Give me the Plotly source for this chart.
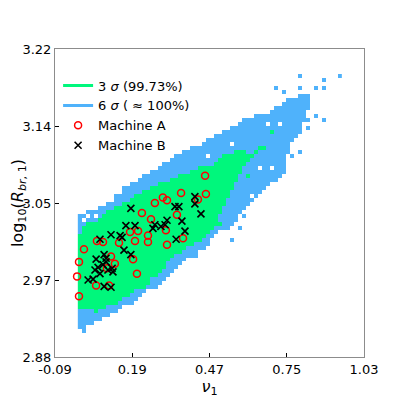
import numpy as np
import plotly.graph_objects as go

# 2-D histogram of (nu_1, log10 R_br,1): one value per column, column i sits at nu_1 = i * bin_w
bin_w = 0.0145
bin_h = 0.0044
y0 = 2.904

# 6 sigma region (top / bottom of log10 R in every column)
blue_top = [3.039, 3.040, 3.041, 3.042, 3.044, 3.046, 3.048, 3.051, 3.053, 3.058,
            3.060, 3.067, 3.070, 3.072, 3.074, 3.078, 3.081, 3.083, 3.085, 3.088,
            3.091, 3.094, 3.097, 3.101, 3.103, 3.105, 3.107, 3.110, 3.112, 3.112,
            3.113, 3.117, 3.120, 3.121, 3.124, 3.128, 3.129, 3.131, 3.133, 3.136,
            3.139, 3.142, 3.145, 3.145, 3.146, 3.147, 3.149, 3.150, 3.153, 3.157,
            3.159, 3.161, 3.164, 3.166, 3.167, 3.170, 3.172, 3.172]
blue_bot = [2.912, 2.906, 2.913, 2.915, 2.920, 2.921, 2.923, 2.924, 2.926, 2.930,
            2.933, 2.935, 2.937, 2.939, 2.941, 2.945, 2.950, 2.952, 2.954, 2.956,
            2.959, 2.964, 2.968, 2.973, 2.978, 2.983, 2.985, 2.987, 2.989, 2.991,
            2.998, 3.000, 3.004, 3.010, 3.016, 3.020, 3.021, 3.022, 3.024, 3.031,
            3.038, 3.042, 3.048, 3.052, 3.057, 3.060, 3.063, 3.069, 3.073, 3.075,
            3.078, 3.082, 3.104, 3.116, 3.120, 3.128, 3.139, 3.153]

# 3 sigma region
green_top = [3.015, 3.026, 3.028, 3.029, 3.031, 3.033, 3.038, 3.041, 3.043, 3.047,
             3.049, 3.051, 3.053, 3.056, 3.058, 3.060, 3.063, 3.064, 3.067, 3.070,
             3.072, 3.073, 3.075, 3.076, 3.079, 3.080, 3.082, 3.083, 3.085, 3.088,
             3.089, 3.090, 3.091, 3.093, 3.094, 3.101, 3.102, 3.103, 3.105, 3.107,
             3.109, 3.107, 3.106, 3.106, 3.109]
green_bot = [2.934, 2.934, 2.934, 2.932, 2.930, 2.931, 2.934, 2.935, 2.936, 2.938,
             2.941, 2.944, 2.947, 2.951, 2.953, 2.954, 2.956, 2.961, 2.966, 2.969,
             2.973, 2.978, 2.984, 2.988, 2.993, 2.996, 2.998, 3.001, 3.004, 3.006,
             3.009, 3.012, 3.017, 3.021, 3.026, 3.039, 3.048, 3.056, 3.067, 3.075,
             3.081, 3.089, 3.095, 3.100, 3.104]

# scattered single cells
blue_speck_x = [0.794, 0.936, 0.794, 0.852, 0.881, 0.881, 0.711, 0.736, 0.823, 0.823,
                0.852, 0.881, 0.769, 0.791, 0.599, 0.573, 0.544, 0.164]
blue_speck_y = [3.191, 3.191, 3.179, 3.179, 3.184, 3.179, 3.175, 3.171, 3.142, 3.133,
                3.145, 3.141, 3.103, 3.106, 3.035, 3.022, 3.009, 3.068]
green_speck_x = [0.697, 0.653, 0.668, 0.613, 0.555, 0.501]
green_speck_y = [3.128, 3.109, 3.109, 3.078, 3.068, 3.026]
hole_x = [0.682, 0.726, 0.689, 0.653, 0.544, 0.461, 0.617, 0.011, 0.026, 0.385,
          0.062, 0.247, 0.109, 0.153]
hole_y = [3.136, 3.138, 3.090, 3.090, 3.116, 3.103, 3.057, 3.031, 3.036, 2.987,
          3.036, 2.951, 2.925, 2.934]

# machine A (red circles)
xa = [0.454, 0.367, 0.301, 0.316, 0.272, 0.457, 0.428, 0.225, 0.258, 0.352,
      0.312, 0.211, 0.182, 0.200, 0.247, 0.247, 0.374, 0.316, 0.142, 0.084,
      0.062, 0.015, 0.113, -0.003, 0.127, 0.193, 0.098, 0.207, -0.010, 0.059,
      0.106, -0.003]
ya = [3.080, 3.061, 3.056, 3.053, 3.050, 3.060, 3.054, 3.039, 3.032, 3.037,
      3.020, 3.019, 3.018, 3.008, 3.014, 3.007, 3.011, 3.004, 3.006, 3.007,
      3.008, 2.999, 2.991, 2.985, 2.983, 2.988, 2.978, 2.972, 2.969, 2.959,
      2.959, 2.947]

# machine B (black crosses)
xb = [0.417, 0.417, 0.439, 0.185, 0.345, 0.359, 0.316, 0.370, 0.381, 0.349,
      0.272, 0.265, 0.294, 0.309, 0.167, 0.200, 0.113, 0.146, 0.153, 0.073,
      0.160, 0.185, 0.059, 0.088, 0.095, 0.095, 0.066, 0.084, 0.102, 0.117,
      0.120, 0.073, 0.055, 0.030, 0.048, 0.088, 0.113]
yb = [3.057, 3.049, 3.038, 3.044, 3.046, 3.046, 3.031, 3.030, 3.019, 3.010,
      3.026, 3.022, 3.024, 3.026, 3.025, 3.025, 3.015, 3.014, 3.012, 3.010,
      2.998, 2.993, 2.988, 2.993, 2.989, 2.985, 2.979, 2.982, 2.976, 2.978,
      2.974, 2.972, 2.976, 2.965, 2.966, 2.958, 2.957]

x_ticks = ["-0.09", "0.19", "0.47", "0.75", "1.03"]
y_ticks = ["2.88", "2.97", "3.05", "3.14", "3.22"]

GREEN = "#00f77c"
BLUE = "#4fb2fb"

# build the histogram mask: 1 = 6 sigma, 2 = 3 sigma
n_cols, n_rows = 66, 68
y_c = y0 + np.arange(n_rows) * bin_h
z = np.full((n_rows, n_cols), np.nan)


def cell(x, y):
    return int(round((y - y0) / bin_h)), int(round(x / bin_w))


for i, (t, b) in enumerate(zip(blue_top, blue_bot)):
    z[(y_c >= b - 1e-9) & (y_c <= t + 1e-9), i] = 1
for x, y in zip(blue_speck_x, blue_speck_y):
    z[cell(x, y)] = 1
for i, (t, b) in enumerate(zip(green_top, green_bot)):
    z[(y_c >= b - 1e-9) & (y_c <= t + 1e-9), i] = 2
for x, y in zip(green_speck_x, green_speck_y):
    z[cell(x, y)] = 2
for x, y in zip(hole_x, hole_y):
    z[cell(x, y)] = np.nan

fig = go.Figure()
fig.add_trace(go.Heatmap(
    z=z, x0=0.0, dx=bin_w, y0=y0, dy=bin_h,
    zmin=0.5, zmax=2.5,
    colorscale=[[0, BLUE], [0.5, BLUE], [0.5, GREEN], [1, GREEN]],
    showscale=False, hoverinfo="skip",
))

# legend entries for the two regions
fig.add_trace(go.Scatter(x=[None], y=[None], mode="lines", name="3 <i>σ</i> (99.73%)",
                         line=dict(color=GREEN, width=3)))
fig.add_trace(go.Scatter(x=[None], y=[None], mode="lines", name="6 <i>σ</i> ( ≈ 100%)",
                         line=dict(color=BLUE, width=3)))

fig.add_trace(go.Scatter(
    x=xa, y=ya, mode="markers", name="Machine A",
    marker=dict(symbol="circle-open", size=7, color="red", line=dict(width=1.5)),
))
fig.add_trace(go.Scatter(
    x=xb, y=yb, mode="markers", name="Machine B",
    marker=dict(symbol="x-thin", size=7, line=dict(color="black", width=1.6)),
))

axis_style = dict(
    showgrid=False, zeroline=False, showline=True, mirror=True,
    linecolor="#8c8c8c", linewidth=1,
    ticks="inside", ticklen=4, tickwidth=1, tickcolor="black",
    tickfont=dict(size=13, color="black"),
)
fig.update_xaxes(
    range=[-0.09, 1.03], tickvals=np.linspace(-0.09, 1.03, 5), ticktext=x_ticks,
    title=dict(text="<i>ν</i><sub>1</sub>", font=dict(size=16, color="black"), standoff=4),
    **axis_style,
)
fig.update_yaxes(
    range=[2.88, 3.22], tickvals=np.linspace(2.88, 3.22, 5), ticktext=y_ticks,
    title=dict(text="log<sub>10</sub>(<i>R</i><sub><i>br</i>, 1</sub>)",
               font=dict(size=16, color="black"), standoff=6),
    **axis_style,
)

# the page body adds an 8 px offset, so the margins are shifted to compensate
fig.update_layout(
    width=409, height=409,
    margin=dict(l=47, r=53, t=41, b=60, autoexpand=False),
    plot_bgcolor="white", paper_bgcolor="white",
    font=dict(family="DejaVu Sans", color="black"),
    legend=dict(x=0.01, y=0.93, xanchor="left", yanchor="top",
                bgcolor="rgba(0,0,0,0)", font=dict(size=13), itemwidth=30,
                tracegroupgap=0),
)

fig.write_html("out.html")
